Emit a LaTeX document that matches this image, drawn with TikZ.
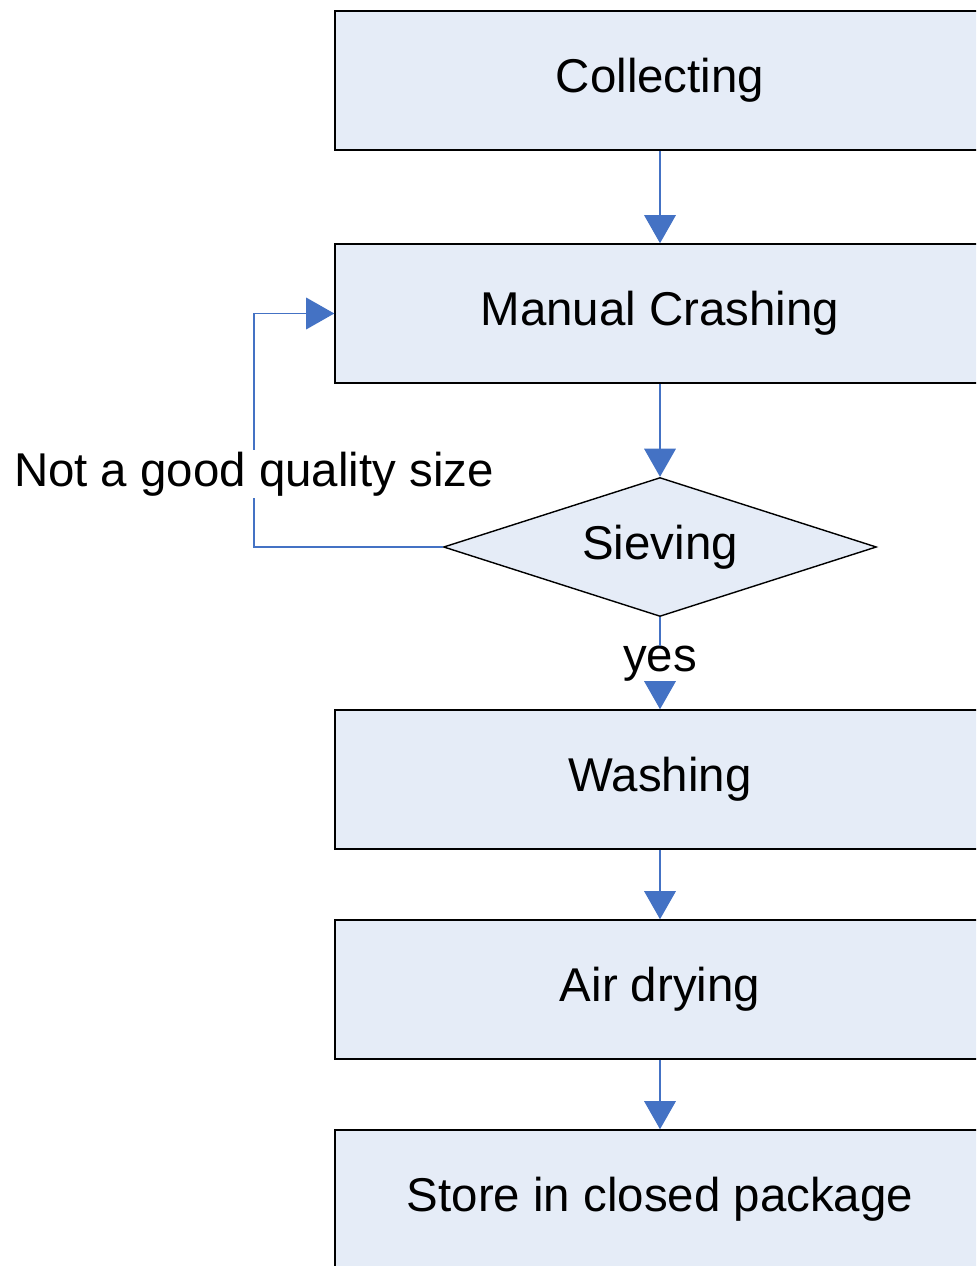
\documentclass[tikz,border=0pt]{standalone}
\usepackage{fontspec}
\setmainfont{Liberation Sans}
\usetikzlibrary{shapes.geometric,arrows.meta}

\definecolor{boxfill}{RGB}{229,236,247}
\definecolor{flowblue}{RGB}{68,114,196}

\tikzset{
  stepbox/.style={draw=black, line width=0.9pt, fill=boxfill, minimum width=13cm,
    minimum height=2.78cm, inner sep=0pt, font=\fontsize{27}{32}\selectfont},
  checkbox/.style={diamond, shape aspect=3.1, draw=black, line width=0.8pt, fill=boxfill,
    minimum width=8.66cm, minimum height=2.78cm, inner sep=0pt, font=\fontsize{27}{32}\selectfont},
  lbl/.style={fill=white, inner sep=1pt, font=\fontsize{27}{32}\selectfont},
  wire/.style={draw=flowblue, line width=0.8pt},
  flow/.style={wire, -{Triangle[length=16pt,width=18pt]}},
}

\begin{document}
\begin{tikzpicture}[x=0.02cm, y=-0.02cm]
\path[use as bounding box, clip] (0,0) rectangle (976,1266);

\node[stepbox] (collect) at (660,80.5){Collecting};
\node[stepbox] (crash) at (660,313.5){Manual Crashing};
\node[checkbox] (sieve) at (660,547){Sieving};
\node[stepbox] (wash) at (660,779.5){Washing};
\node[stepbox] (dry) at (660,989.5){Air drying};
\node[stepbox] (store) at (660,1199.5){Store in closed package};

\coordinate (turn) at (254,547);
\node[lbl, inner sep=0pt] (yes) at (660,664){yes};

\draw[flow] (collect) -- (crash);
\draw[flow] (crash) -- (sieve);
\draw[wire] (sieve) -- (yes);
\draw[flow] (yes) -- (wash);
\draw[flow] (wash) -- (dry);
\draw[flow] (dry) -- (store);
\draw[flow] (sieve.west) -- (turn) |- (crash.west);

\node[lbl] (notgood) at (254,474){Not a good quality size};

\end{tikzpicture}
\end{document}
